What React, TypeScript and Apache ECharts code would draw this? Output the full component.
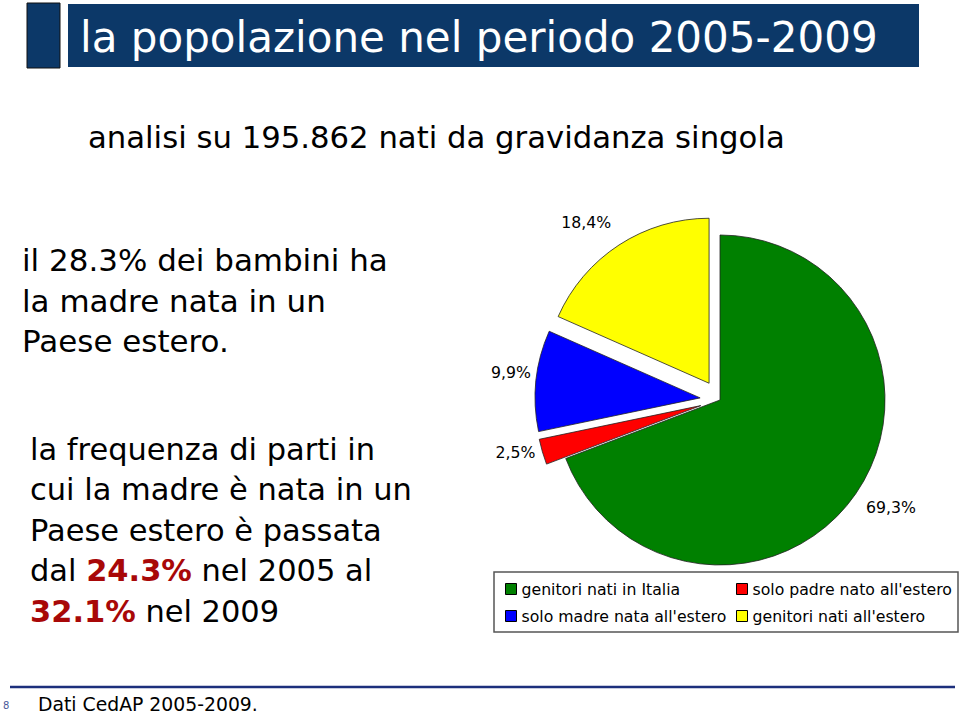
import React, { useEffect, useRef } from "react";
import * as echarts from "echarts";

const categories = [
  "genitori nati in Italia",
  "solo padre nato all'estero",
  "solo madre nata all'estero",
  "genitori nati all'estero",
];
const shares = [69.3, 2.5, 9.9, 18.4];
const colors = ["#008000", "#ff0000", "#0000ff", "#ffff00"];
const exploded = [false, true, true, true];

const titleText = "la popolazione nel periodo 2005-2009";
const subtitleText = "analisi su 195.862 nati da gravidanza singola";
const block1 = ["il 28.3% dei bambini ha", "la madre nata in un", "Paese estero."];
const block2 = [
  "la frequenza di parti in",
  "cui la madre è nata in un",
  "Paese estero è passata",
  "dal {r|24.3%} nel 2005 al",
  "{r|32.1%} nel 2009",
];
const sourceText = "Dati CedAP 2005-2009.";
const pageNumber = "8";

const FONT = '"DejaVu Sans", "Noto Sans", sans-serif';

function fitSize(text: string, target: number, weight = "normal"): number {
  const ctx = document.createElement("canvas").getContext("2d");
  if (!ctx) return 20;
  ctx.font = `${weight} 100px ${FONT}`;
  const w = ctx.measureText(text).width;
  return (100 * target) / w;
}

export default function App() {
  const ref = useRef<HTMLDivElement>(null);

  useEffect(() => {
    if (!ref.current) return;
    const chart = echarts.init(ref.current, undefined, { renderer: "svg" });

    const titleSize = fitSize(titleText, 798);
    const subSize = fitSize(subtitleText, 697);
    const b1Size = fitSize(block1[0], 366);
    const b2Size = fitSize("cui la madre è nata in un", 382);
    const srcSize = fitSize(sourceText, 220);
    const legSize = fitSize(categories[2], 205);
    const pctSize = fitSize("69,3%", 50);

    const labelLen = [16, 2, 0, 20];
    const labelShift = [
      [-8, 5],
      [0, 0],
      [0, -8],
      [8, -6],
    ];

    const data = categories.map((name, i) => ({
      name,
      value: shares[i],
      selected: exploded[i],
      itemStyle: { color: colors[i] },
      labelLine: { show: false, length: labelLen[i], length2: 0 },
    }));

    const lineText = (lines: string[], x: number, y0: number, step: number, size: number) =>
      lines.map((t, i) => ({
        type: "text",
        x,
        y: y0 + i * step,
        style: {
          text: t,
          fill: "#000",
          fontSize: size,
          fontFamily: FONT,
          verticalAlign: "middle",
          align: "left",
          rich: {
            r: {
              fill: "#a80808",
              color: "#a80808",
              fontWeight: "bold",
              fontSize: size,
              fontFamily: FONT,
            },
          },
        },
      }));

    const legendBase = {
      orient: "vertical",
      top: 576,
      icon: "rect",
      itemWidth: 11,
      itemHeight: 11,
      itemGap: 11,
      itemStyle: { borderColor: "#000", borderWidth: 1 },
      textStyle: { fontSize: legSize, fontFamily: FONT, color: "#000" },
      selectedMode: false,
    };

    chart.setOption({
      animation: false,
      backgroundColor: "#ffffff",
      graphic: [
        {
          type: "rect",
          shape: { x: 27, y: 3, width: 33, height: 65 },
          style: { fill: "#0c3868", stroke: "#111", lineWidth: 1 },
        },
        {
          type: "rect",
          shape: { x: 68, y: 4, width: 851, height: 63 },
          style: { fill: "#0c3868" },
        },
        {
          type: "text",
          x: 80,
          y: 37,
          style: {
            text: titleText,
            fill: "#ffffff",
            fontSize: titleSize,
            fontFamily: FONT,
            verticalAlign: "middle",
          },
        },
        {
          type: "text",
          x: 88,
          y: 137,
          style: {
            text: subtitleText,
            fill: "#000",
            fontSize: subSize,
            fontFamily: FONT,
            verticalAlign: "middle",
          },
        },
        ...lineText(block1, 22, 260, 40.5, b1Size),
        ...lineText(block2, 30, 449, 40.5, b2Size),
        {
          type: "rect",
          shape: { x: 494, y: 572, width: 464, height: 60 },
          style: { fill: "#ffffff", stroke: "#555", lineWidth: 1.5 },
        },
        {
          type: "line",
          shape: { x1: 10, y1: 687, x2: 955, y2: 687 },
          style: { stroke: "#1c2f7c", lineWidth: 2.5 },
        },
        {
          type: "text",
          x: 3,
          y: 705,
          style: {
            text: pageNumber,
            fill: "#4a5a9a",
            fontSize: 10,
            fontFamily: FONT,
            verticalAlign: "middle",
          },
        },
        {
          type: "text",
          x: 38,
          y: 704,
          style: {
            text: sourceText,
            fill: "#000",
            fontSize: srcSize,
            fontFamily: FONT,
            verticalAlign: "middle",
          },
        },
      ],
      legend: [
        { ...legendBase, left: 500, data: [categories[0], categories[2]] },
        { ...legendBase, left: 731, data: [categories[1], categories[3]] },
      ],
      series: [
        {
          type: "pie",
          center: [720, 400],
          radius: 165,
          startAngle: 90,
          clockwise: true,
          selectedMode: "multiple",
          selectedOffset: 20,
          avoidLabelOverlap: false,
          itemStyle: { borderColor: "#222", borderWidth: 0.8 },
          label: {
            show: true,
            position: "outside",
            color: "#000",
            fontSize: pctSize,
            fontFamily: FONT,
            formatter: (p: any) => p.value.toFixed(1).replace(".", ",") + "%",
          },
          labelLine: { show: false },
          labelLayout: (p: any) => ({
            dx: labelShift[p.dataIndex][0],
            dy: labelShift[p.dataIndex][1],
          }),
          emphasis: { disabled: true },
          data,
        },
      ],
    });

    return () => chart.dispose();
  }, []);

  return (
    <div
      ref={ref}
      style={{ position: "fixed", left: 0, top: 0, width: 960, height: 714, background: "#fff" }}
    />
  );
}
